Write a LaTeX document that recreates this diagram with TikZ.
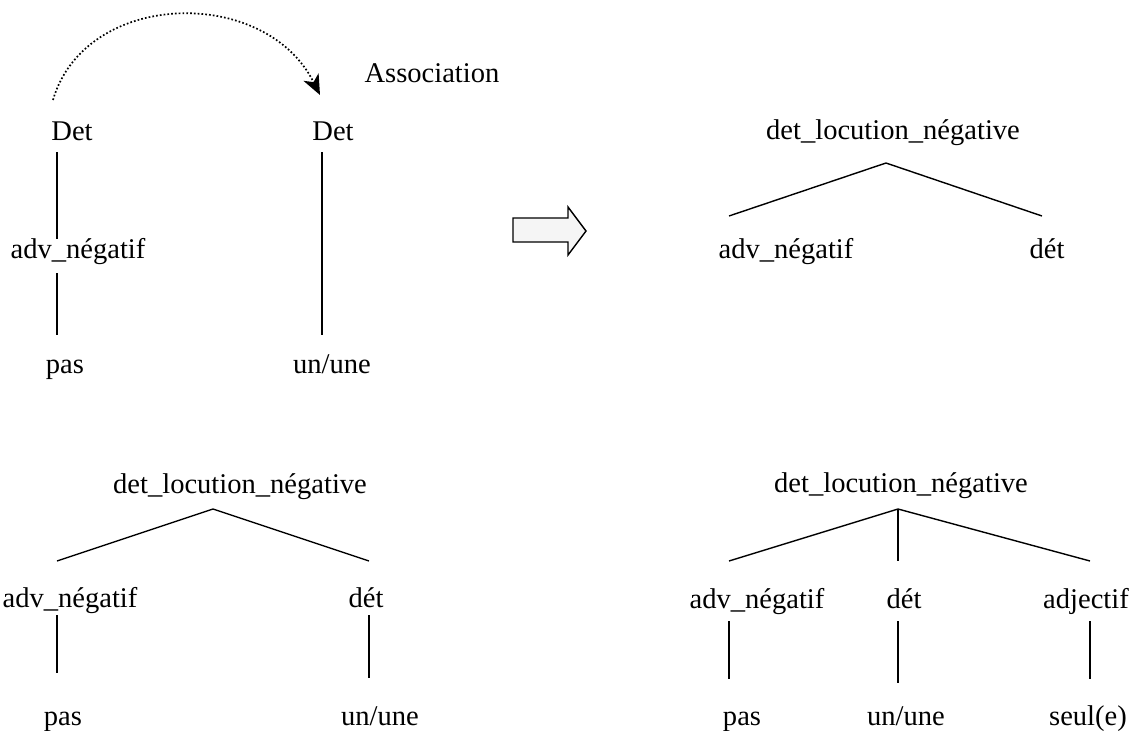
\documentclass[tikz,border=0pt]{standalone}
\usepackage{fontspec}
\setmainfont{Liberation Serif}
\usetikzlibrary{calc,arrows.meta}

\begin{document}
\begin{tikzpicture}[x=0.025cm,y=-0.025cm,
  lbl/.style={inner sep=0pt,anchor=base,font=\fontsize{20.3pt}{24pt}\selectfont},
  branch/.style={line width=1pt,color=black}]
\useasboundingbox (0,0) rectangle (1134,731);
% before: two trees
\node[lbl] (detA) at (72,140) {Det};
\node[lbl] (detB) at (333,140) {Det};
\node[lbl] (advA) at (78,258) {adv\_négatif};
\node[lbl] (pasA) at (65,373) {pas};
\node[lbl] (unA) at (332,373) {un/une};
\node[lbl] (assoc) at (432,82) {Association};
\draw[branch] ($(detA.base)+(-15,12)$) -- ($(advA.base)+(-21,-19)$);
\draw[branch] ($(advA.base)+(-21,15)$) -- ($(pasA.base)+(-8,-38)$);
\draw[branch] ($(detB.base)+(-11,12)$) -- ($(unA.base)+(-10,-38)$);
\draw[line width=1.2pt,dash pattern=on 1.2pt off 1.5pt,-{Stealth[length=0.5cm,width=0.42cm,inset=0.14cm]}]
  ($(detA.base)+(-19,-40)$) .. controls ($(detA.base)+(13,-150)$) and ($(detB.base)+(-68,-155)$) .. ($(detB.base)+(-13,-45)$);
% block arrow
\draw[line width=1pt,fill=gray!8] (513,218) -- (568,218) -- (568,207) -- (586,231)
  -- (568,255) -- (568,242) -- (513,242) -- cycle;
% after: merged tree
\node[lbl] (rootB) at (893,139) {det\_locution\_négative};
\node[lbl] (advB) at (786,258) {adv\_négatif};
\node[lbl] (detC) at (1047,258) {dét};
\draw[branch] ($(advB.base)+(-57,-42)$) -- ($(rootB.base)+(-7,24)$) -- ($(detC.base)+(-5,-42)$);
% bottom left
\node[lbl] (rootC) at (240,493) {det\_locution\_négative};
\node[lbl] (advC) at (70,607) {adv\_négatif};
\node[lbl] (detD) at (366,607) {dét};
\node[lbl] (pasB) at (63,725) {pas};
\node[lbl] (unB) at (380,725) {un/une};
\draw[branch] ($(advC.base)+(-13,-46)$) -- ($(rootC.base)+(-27,16)$) -- ($(detD.base)+(3,-46)$);
\draw[branch] ($(advC.base)+(-13,8)$) -- ($(pasB.base)+(-6,-52)$);
\draw[branch] ($(detD.base)+(3,8)$) -- ($(unB.base)+(-11,-47)$);
% bottom right
\node[lbl] (rootD) at (901,492) {det\_locution\_négative};
\node[lbl] (advD) at (757,608) {adv\_négatif};
\node[lbl] (detE) at (904,608) {dét};
\node[lbl] (adjD) at (1086,608) {adjectif};
\node[lbl] (pasC) at (742,725) {pas};
\node[lbl] (unC) at (906,725) {un/une};
\node[lbl] (seulD) at (1088,725) {seul(e)};
\draw[branch] ($(advD.base)+(-28,-47)$) -- ($(rootD.base)+(-3,17)$) -- ($(adjD.base)+(4,-47)$);
\draw[branch] ($(rootD.base)+(-3,17)$) -- ($(detE.base)+(-6,-47)$);
\draw[branch] ($(advD.base)+(-28,13)$) -- ($(pasC.base)+(-13,-46)$);
\draw[branch] ($(detE.base)+(-6,13)$) -- ($(unC.base)+(-8,-42)$);
\draw[branch] ($(adjD.base)+(4,13)$) -- ($(seulD.base)+(2,-46)$);
\end{tikzpicture}
\end{document}
